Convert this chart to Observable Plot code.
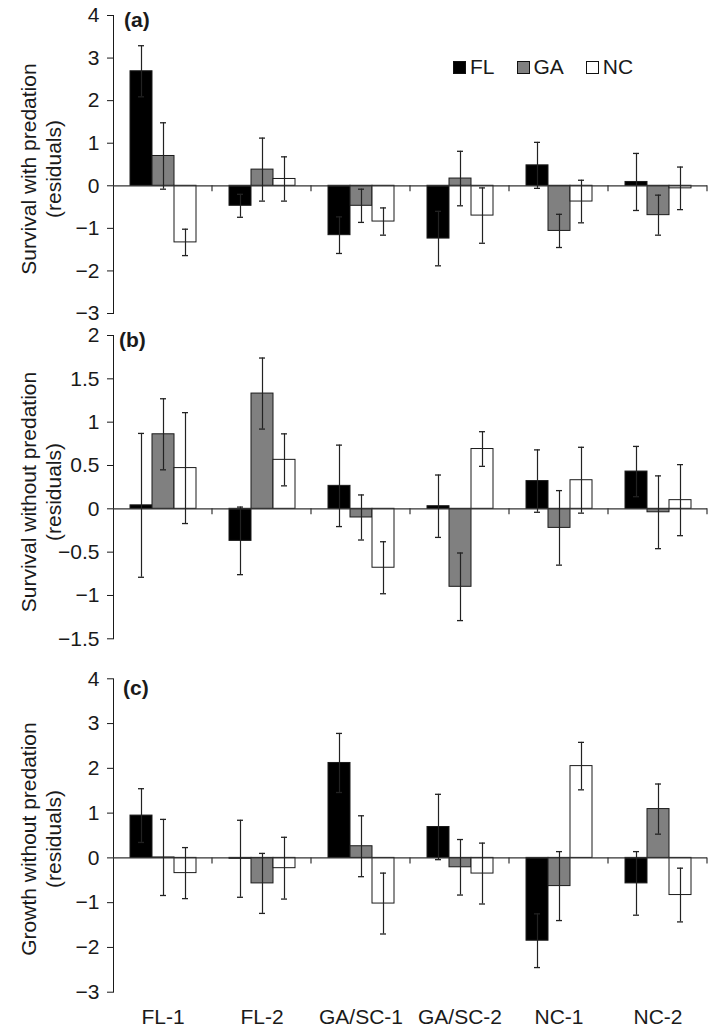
<!DOCTYPE html>
<html>
<head>
<meta charset="utf-8">
<script src="https://cdn.jsdelivr.net/npm/d3@7"></script>
<script src="https://cdn.jsdelivr.net/npm/@observablehq/plot@0.6"></script>
<style>
  html, body { margin: 0; padding: 0; background: #fff; }
  #chart { position: relative; width: 709px; height: 1032px; font-family: "Liberation Sans", Arial, sans-serif; color: #1a1a1a; }
  #chart svg text { font-size: 21px !important; font-family: "Liberation Sans", Arial, sans-serif !important; }
  .pnl { position: absolute; left: 0; }
  .ylab { position: absolute; width: 320px; height: 50px; line-height: 25px; font-size: 21px; text-align: center; transform: rotate(-90deg); white-space: nowrap; }
  .plab { position: absolute; font-size: 21px; font-weight: bold; line-height: 1; }
  .legend { position: absolute; left: 453px; top: 55px; display: flex; gap: 22px; font-size: 21px; line-height: 24px; }
  .legend .item { display: flex; align-items: center; gap: 4px; }
  .legend .sw { width: 11px; height: 11px; border: 1px solid #111; box-sizing: content-box; }
</style>
</head>
<body>
<div id="chart"></div>
<script>
// ---------- data ----------
const groups = ["FL-1", "FL-2", "GA/SC-1", "GA/SC-2", "NC-1", "NC-2"];
const series = ["FL", "GA", "NC"];
const fills = ["#000000", "#808080", "#ffffff"];

// (a) Survival with predation (residuals): means and error half-widths
const aFL = [2.69, -0.47, -1.16, -1.24, 0.48, 0.09];
const aGA = [0.70, 0.38, -0.47, 0.17, -1.06, -0.69];
const aNC = [-1.33, 0.16, -0.84, -0.70, -0.37, -0.06];
const aFLse = [0.60, 0.27, 0.43, 0.64, 0.54, 0.67];
const aGAse = [0.78, 0.74, 0.39, 0.64, 0.39, 0.47];
const aNCse = [0.31, 0.52, 0.32, 0.65, 0.50, 0.50];

// (b) Survival without predation (residuals)
const bFL = [0.04, -0.37, 0.265, 0.03, 0.32, 0.43];
const bGA = [0.86, 1.33, -0.10, -0.90, -0.22, -0.04];
const bNC = [0.47, 0.565, -0.68, 0.69, 0.33, 0.10];
const bFLse = [0.83, 0.39, 0.47, 0.36, 0.36, 0.29];
const bGAse = [0.41, 0.41, 0.26, 0.39, 0.43, 0.42];
const bNCse = [0.64, 0.30, 0.30, 0.20, 0.38, 0.41];

// (c) Growth without predation (residuals)
const cFL = [0.945, -0.02, 2.12, 0.69, -1.85, -0.57];
const cGA = [0.01, -0.57, 0.26, -0.21, -0.63, 1.09];
const cNC = [-0.34, -0.23, -1.02, -0.35, 2.05, -0.83];
const cFLse = [0.60, 0.86, 0.66, 0.73, 0.60, 0.71];
const cGAse = [0.85, 0.67, 0.68, 0.62, 0.77, 0.56];
const cNCse = [0.57, 0.69, 0.68, 0.68, 0.53, 0.60];

const aTicks = [-3, -2, -1, 0, 1, 2, 3, 4];
const bTicks = [-1.5, -1, -0.5, 0, 0.5, 1, 1.5, 2];
const cTicks = [-3, -2, -1, 0, 1, 2, 3, 4];

const panelLetters = ["(a)", "(b)", "(c)"];
const yTitles = [
  ["Survival with predation", "(residuals)"],
  ["Survival without predation", "(residuals)"],
  ["Growth without predation", "(residuals)"]
];

// ---------- build ----------
function rows(fl, ga, nc, flse, gase, ncse) {
  const out = [];
  groups.forEach((g, i) => {
    [[fl, flse], [ga, gase], [nc, ncse]].forEach(([m, s], j) => {
      out.push({group: g, series: series[j], value: m[i], se: s[i]});
    });
  });
  return out;
}

const fmt = d => (d < 0 ? "\u2212" : "") + Math.abs(d);

function sepTicks(index, scales) {
  const r = scales.x.range();
  const x1 = Math.max(r[0], r[1]);
  const y0 = scales.y(0);
  const line = document.createElementNS("http://www.w3.org/2000/svg", "line");
  line.setAttribute("x1", x1); line.setAttribute("x2", x1);
  line.setAttribute("y1", y0); line.setAttribute("y2", y0 + 6);
  line.setAttribute("stroke", "#333"); line.setAttribute("stroke-width", 1.2);
  return line;
}

function panel(data, domain, ticks, height, mt, mb, showX) {
  return Plot.plot({
    width: 709,
    height,
    marginLeft: 113,
    marginRight: 2,
    marginTop: mt,
    marginBottom: mb,
    style: {fontSize: "21px", fontFamily: "'Liberation Sans', Arial, sans-serif", color: "#1a1a1a", background: "transparent", overflow: "visible"},
    facet: {data, x: "group"},
    fx: {domain: groups, padding: 0, axis: showX ? "bottom" : null, tickSize: 0, tickPadding: 17, label: null},
    x: {domain: series, paddingInner: 0, paddingOuter: 0.72, axis: null},
    y: {domain, ticks, tickSize: 6, tickPadding: 8, label: null, line: true, tickFormat: fmt},
    color: {domain: series, range: fills},
    marks: [
      Plot.barY(data, {x: "series", y: "value", fill: "series", stroke: "#1a1a1a", strokeWidth: 1}),
      Plot.ruleY([0], {stroke: "#333", strokeWidth: 1.2}),
      Plot.ruleX(data, {x: "series", y1: d => d.value - d.se, y2: d => d.value + d.se, stroke: "#222", strokeWidth: 1.2}),
      Plot.tickY(data, {x: "series", y: d => d.value + d.se, insetLeft: 8, insetRight: 8, stroke: "#222", strokeWidth: 1.3}),
      Plot.tickY(data, {x: "series", y: d => d.value - d.se, insetLeft: 8, insetRight: 8, stroke: "#222", strokeWidth: 1.3}),
      sepTicks
    ]
  });
}

const chart = document.getElementById("chart");
const specs = [
  {data: rows(aFL, aGA, aNC, aFLse, aGAse, aNCse), domain: [-3, 4], ticks: aTicks, top: 0, height: 325, mt: 15, mb: 12, showX: false, labY: 168.5, letter: [124, 9]},
  {data: rows(bFL, bGA, bNC, bFLse, bGAse, bNCse), domain: [-1.5, 2], ticks: bTicks, top: 325, height: 325, mt: 10, mb: 11.7, showX: false, labY: 491.5, letter: [119, 329]},
  {data: rows(cFL, cGA, cNC, cFLse, cGAse, cNCse), domain: [-3, 4], ticks: cTicks, top: 650, height: 382, mt: 28.3, mb: 40.3, showX: true, labY: 838.5, letter: [123, 677]}
];

specs.forEach((s, k) => {
  const holder = document.createElement("div");
  holder.className = "pnl";
  holder.style.top = s.top + "px";
  holder.appendChild(panel(s.data, s.domain, s.ticks, s.height, s.mt, s.mb, s.showX));
  chart.appendChild(holder);

  const yl = document.createElement("div");
  yl.className = "ylab";
  yl.style.left = (40.5 - 160) + "px";
  yl.style.top = (s.labY - 25) + "px";
  yl.innerHTML = yTitles[k][0] + "<br>" + yTitles[k][1];
  chart.appendChild(yl);

  const pl = document.createElement("div");
  pl.className = "plab";
  pl.style.left = s.letter[0] + "px";
  pl.style.top = s.letter[1] + "px";
  pl.textContent = panelLetters[k];
  chart.appendChild(pl);
});

const legend = document.createElement("div");
legend.className = "legend";
series.forEach((name, i) => {
  const item = document.createElement("div");
  item.className = "item";
  const sw = document.createElement("span");
  sw.className = "sw";
  sw.style.background = fills[i];
  const t = document.createElement("span");
  t.textContent = name;
  item.appendChild(sw); item.appendChild(t);
  legend.appendChild(item);
});
chart.appendChild(legend);
</script>
</body>
</html>
